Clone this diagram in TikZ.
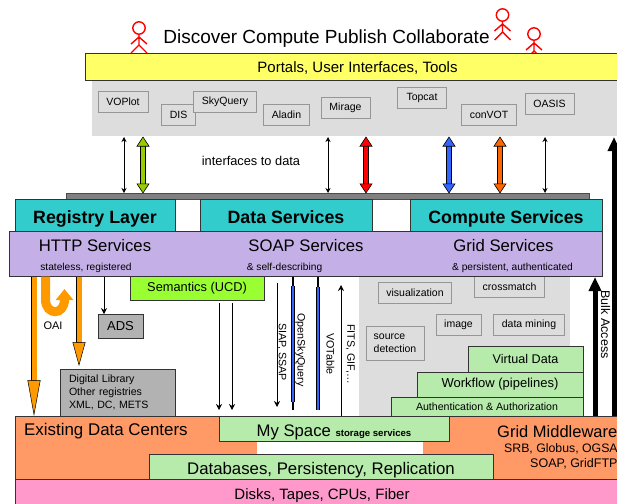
\documentclass[tikz,border=0pt]{standalone}
\usepackage{fontspec}
\setmainfont{Liberation Sans}
\usetikzlibrary{arrows.meta, positioning}
\definecolor{portalyellow}{HTML}{FFFF66}
\definecolor{panelgray}{HTML}{DDDDDD}
\definecolor{edgegray}{HTML}{969696}
\definecolor{barteal}{HTML}{33CCCC}
\definecolor{barpurple}{HTML}{C4B0E6}
\definecolor{stackgreen}{HTML}{B6EBAB}
\definecolor{limegreen}{HTML}{99FF33}
\definecolor{centerorange}{HTML}{FF9966}
\definecolor{diskpink}{HTML}{FF99CC}
\definecolor{arroworange}{HTML}{FF9900}
\definecolor{boxgray}{HTML}{B2B2B2}
\definecolor{fatgreen}{HTML}{99CC00}
\definecolor{fatblue}{HTML}{3366FF}
\definecolor{fatorange}{HTML}{FF6600}

\begin{document}
\begin{tikzpicture}[x=1pt,y=-1pt]

\tikzset{
  % plain boxes, size is given with each node
  layer/.style={draw=black!80, line width=0.8pt, inner sep=0pt, align=center},
  toolbox/.style={draw=edgegray, line width=1pt, fill=panelgray, inner sep=0pt, align=center, font=\fontsize{10.5}{13}\selectfont},
  graybox/.style={layer, fill=boxgray},
  service/.style={layer, fill=barteal, minimum height=32, text height=17pt, text depth=0pt, font=\bfseries\fontsize{17.8}{20}\selectfont},
  % arrows
  thin both/.style={draw=black, line width=0.7pt, {Stealth[length=5pt,width=5pt]}-{Stealth[length=5pt,width=5pt]}},
  thin down/.style={draw=black, line width=0.7pt, -{Stealth[length=6pt,width=6pt]}},
  fat both/.style={draw=#1, line width=3.6pt,
    {Triangle[length=10pt,width=13pt,fill=#1,color=black,line width=0.6pt]}-{Triangle[length=10pt,width=13pt,fill=#1,color=black,line width=0.6pt]},
    preaction={draw=black, line width=5.2pt, -, shorten >=8pt, shorten <=8pt}},
  orange down/.style={draw=arroworange, line width=5pt,
    -{Triangle[length=#1,width=13pt,fill=arroworange,color=black,line width=0.5pt]},
    preaction={draw=black, line width=6.4pt, -, shorten >=#1-2pt}},
  bulk up/.style={draw=black, line width=5pt, -{Triangle[length=14pt,width=12pt]}},
  blue bar/.style={draw=fatblue, line width=2.8pt, preaction={draw=black, line width=3.8pt}},
  side label/.style={rotate=-90, font=\fontsize{10.7}{12}\selectfont},
  stick man/.pic={
    \draw[red, line width=1.4pt] (0,0) circle (6.2pt);
    \draw[red, line width=1.4pt] (0,6.2) -- (0,17) (-8,25) -- (0,17) -- (8,25) (-8,16) -- (0,9) -- (8,16);
  },
}

\useasboundingbox (0,0) rectangle (617,503);
\clip (0,0) rectangle (617,503);

% people stand on the portal bar
\pic at (139,28) {stick man};
\pic at (502.5,15) {stick man};
\pic at (534,34) {stick man};
\node (title) at (326.5,39) {\fontsize{19}{21}\selectfont Discover Compute Publish Collaborate};

% top: portals and tools
\node[fill=panelgray, minimum width=525, minimum height=56, inner sep=0pt] (toolpanel) at (354.5,108) {};
\node[layer, fill=portalyellow, minimum width=532, minimum height=27] (portals) at (351,66.5) {};
\node[text height=11.8pt, text depth=0pt, inner sep=0pt, font=\fontsize{15}{17}\selectfont] (portallabel) at (357.5,66.5) {Portals, User Interfaces, Tools};
\node[toolbox, minimum width=50, minimum height=21] (voplot) at (123,102) {VOPlot};
\node[toolbox, minimum width=34, minimum height=21] (dis) at (178.5,114.5) {DIS};
\node[toolbox, minimum width=63, minimum height=21] (skyquery) at (225,102) {SkyQuery};
\node[toolbox, minimum width=46, minimum height=21] (aladin) at (286.5,114.5) {Aladin};
\node[toolbox, minimum width=49, minimum height=21] (mirage) at (345.5,108) {Mirage};
\node[toolbox, minimum width=49, minimum height=21] (topcat) at (422,97.5) {Topcat};
\node[toolbox, minimum width=55, minimum height=21] (convot) at (489,114.5) {conVOT};
\node[toolbox, minimum width=49, minimum height=21] (oasis) at (549.5,104) {OASIS};

\node[font=\fontsize{12.8}{15}\selectfont] (interfaces) at (251,160.5) {interfaces to data};

% service layers
\node[draw=black!70, fill=gray, minimum width=523, minimum height=6, inner sep=0pt] (servicebar) at (327.5,196) {};
\foreach \name/\cx in {vo/124, mid/328, oasis/545} {
  \coordinate (\name top) at (\cx,137);
  \coordinate (\name low) at (\cx,193);
  \draw[thin both] (\name top) -- (\name low);
}
\foreach \name/\cx/\tone in {green/143/fatgreen, red/366/red, blue/449/fatblue, orange/500/fatorange} {
  \coordinate (\name top) at (\cx,136.5);
  \coordinate (\name low) at (\cx,193.5);
  \draw[fat both=\tone] (\name top) -- (\name low);
}

% lower gray panel with its tools, goes below the purple bar
\node[fill=panelgray, minimum width=211, minimum height=140, inner sep=0pt] (computepanel) at (464.5,346) {};
\node[toolbox, minimum width=70, minimum height=21] (crossmatch) at (509.5,286.5) {crossmatch};
\node[toolbox, minimum width=73, minimum height=21] (visualization) at (415,293) {visualization};
\node[toolbox, minimum width=45, minimum height=21] (image) at (458.5,324.5) {image};
\node[toolbox, minimum width=71, minimum height=21] (datamining) at (529,324.5) {data mining};
\node[toolbox, minimum width=58, minimum height=34, align=left] (sourcedet) at (395,343.5) {source\\detection};

\node[service, minimum width=160] (registry) at (95,215) {Registry Layer};
\node[service, minimum width=172] (dataserv) at (286,215) {Data Services};
\node[service, minimum width=192] (computeserv) at (506,215) {Compute Services};
\node[layer, fill=barpurple, minimum width=593, minimum height=45] (http) at (305.5,253.5) {};
\node[font=\fontsize{16.7}{19}\selectfont] (httplabel) at (95,246) {HTTP Services};
\node[font=\fontsize{16.7}{19}\selectfont] (soaplabel) at (306,246) {SOAP Services};
\node[font=\fontsize{16.7}{19}\selectfont] (gridlabel) at (503.5,246) {Grid Services};
\node[font=\fontsize{10.2}{12}\selectfont] (statelabel) at (86,268) {stateless, registered};
\node[font=\fontsize{10.2}{12}\selectfont] (selflabel) at (284.5,268) {\& self-describing};
\node[font=\fontsize{10.2}{12}\selectfont] (persistlabel) at (512.5,268) {\& persistent, authenticated};

\node[layer, fill=limegreen, minimum width=134, minimum height=24, font=\fontsize{12.8}{15}\selectfont] (semantics) at (197,288.5) {Semantics (UCD)};
\node[graybox, minimum width=45, minimum height=24, font=\fontsize{13}{15}\selectfont] (ads) at (120.5,326.5) {ADS};
\node[graybox, minimum width=115, minimum height=47, text width=97pt, font=\fontsize{10.6}{12.7}\selectfont, align=left] (library) at (117.5,392.5) {Digital Library\\Other registries\\XML, DC, METS};

% green stack on the right
\node[layer, fill=stackgreen, minimum width=115, minimum height=26, font=\fontsize{12.6}{15}\selectfont] (virtualdata) at (525.5,359) {Virtual Data};
\node[layer, fill=stackgreen, minimum width=166, minimum height=25, font=\fontsize{13}{15}\selectfont] (workflow) at (500,384.5) {Workflow (pipelines)};
\node[layer, fill=stackgreen, minimum width=192, minimum height=19, text height=8.6pt, text depth=0pt, font=\fontsize{10.6}{12}\selectfont] (authlayer) at (487,406.5) {Authentication \& Authorization};

% bottom layers
\node[layer, fill=centerorange, minimum width=602, minimum height=63] (centers) at (316,447.5) {};
\node[fill=white, minimum width=166, minimum height=13, inner sep=0pt] (gap) at (340,447.5) {};
\node[layer, fill=stackgreen, minimum width=230, minimum height=25, text height=16pt, text depth=0pt, font=\fontsize{16.7}{19}\selectfont] (myspace) at (334,428.5) {My Space {\bfseries\fontsize{9.6}{11}\selectfont storage services}};
\node[layer, fill=stackgreen, minimum width=344, minimum height=25, text height=16pt, text depth=0pt, font=\fontsize{16.8}{19}\selectfont] (databases) at (321,466.5) {Databases, Persistency, Replication};
\node[layer, fill=diskpink, minimum width=602, minimum height=26] (disks) at (316,492) {};
\node[text height=14.8pt, text depth=0pt, inner sep=0pt, font=\fontsize{15}{17}\selectfont] (disklabel) at (322,492) {Disks, Tapes, CPUs, Fiber};
\node[anchor=west, font=\fontsize{16.9}{19}\selectfont, inner sep=0pt] (existing) at (24,431.5) {Existing Data Centers};
\node[anchor=west, font=\fontsize{16.5}{19}\selectfont, inner sep=0pt] (gridmid) at (497,431.5) {Grid Middleware};
\node[anchor=west, font=\fontsize{12.3}{14}\selectfont, inner sep=0pt] (srb) at (504,449) {SRB, Globus, OGSA};
\node[anchor=west, font=\fontsize{12.5}{14}\selectfont, inner sep=0pt] (soapftp) at (530,464) {SOAP, GridFTP};

% arrows out of the purple bar
\coordinate (oaileft) at (34,276.5);
\coordinate (oaileftend) at (34,416);
\coordinate (regleft) at (79,276.5);
\coordinate (reglow) at (79,366);
\coordinate (turntop) at (45.5,276.5);
\coordinate (turnend) at (64.5,289);
\coordinate (adstop) at (104,276.5);
\coordinate (skytop) at (293,276.5);
\coordinate (skylow) at (293,410);
\coordinate (skyupper) at (293,286);
\coordinate (skylower) at (293,402);
\coordinate (votop) at (318,276.5);
\coordinate (volow) at (318,410);
\coordinate (voupper) at (318,287);
\coordinate (fitslow) at (341,416);
\coordinate (fitstop) at (341,285);
\coordinate (siaptop) at (277,283);
\coordinate (siaplow) at (277,407);

\draw[orange down=36pt] (oaileft) -- (oaileftend);
\draw[orange down=24pt] (regleft) -- (reglow);
\draw[draw=arroworange, line width=9pt, -{Triangle[length=11pt,width=17pt]}] (turntop) -- ++(0,23) .. controls +(0,16) and (64.5,316) .. (turnend);
\draw[thin down] (adstop) -- (ads.north -| adstop);
\foreach \cx in {219,232} {
  \draw[thin down] (semantics.south -| \cx,0) ++(0,2) -- (\cx,410);
}
\draw[thin down] (siaptop) -- (siaplow);
\draw[line width=1.2pt] (skytop) -- (skylow);
\draw[blue bar] (skyupper) -- (skylower);
\draw[line width=1.2pt] (votop) -- (volow);
\draw[blue bar] (voupper) -- (volow);
\draw[thin down] (fitslow) -- (fitstop);

\coordinate (bulkone) at (595,416);
\coordinate (bulkonetop) at (595,277);
\coordinate (bulktwo) at (614,416);
\coordinate (bulktwotop) at (614,137);
\draw[bulk up] (bulkone) -- (bulkonetop);
\draw[bulk up] (bulktwo) -- (bulktwotop);

\node[font=\fontsize{11}{13}\selectfont] (oai) at (53,326) {OAI};
\node[side label] (siap) at (282,352) {SIAP, SSAP};
\node[side label] (skylabel) at (300.5,350) {OpenSkyQuery};
\node[side label] (votlabel) at (330.5,354) {VOTable};
\node[side label] (fitslabel) at (350.5,354) {FITS, GIF,\dots};
\node[side label, font=\fontsize{12.5}{14}\selectfont] (bulklabel) at (605.5,324.5) {Bulk Access};

\end{tikzpicture}
\end{document}
